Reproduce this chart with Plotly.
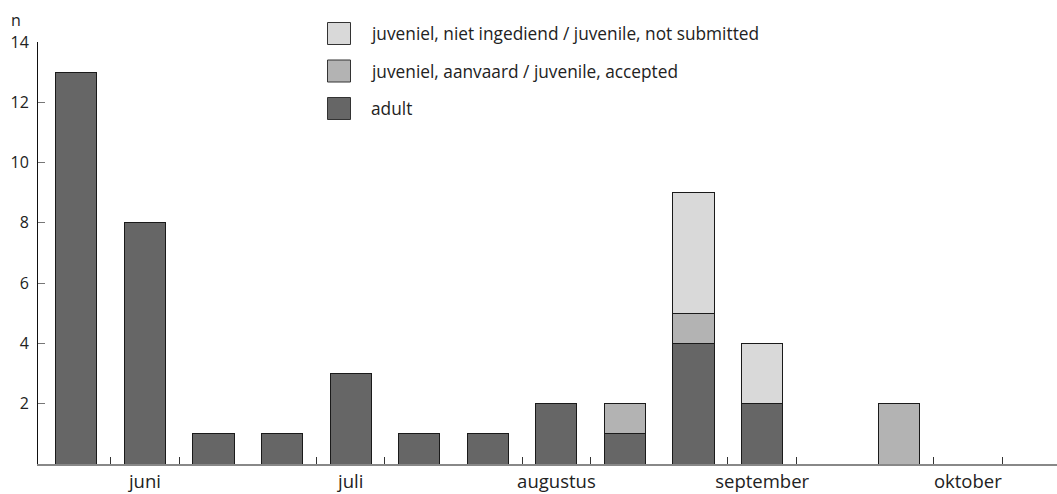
import plotly.graph_objects as go

months = ["juni", "juli", "augustus", "september", "oktober"]
slots = list(range(15))
adult = [13, 8, 1, 1, 3, 1, 1, 2, 1, 4, 2, 0, 0, 0, 0]
accepted = [0, 0, 0, 0, 0, 0, 0, 0, 1, 1, 0, 0, 2, 0, 0]
not_submitted = [0, 0, 0, 0, 0, 0, 0, 0, 0, 4, 2, 0, 0, 0, 0]
y_ticks = [2, 4, 6, 8, 10, 12, 14]

FONT = "Open Sans"
W, H = 1057, 494
ML, MR, MT, MB = 38, 0, 42, 30
line = dict(color="#1a1a1a", width=1)

series = [
    ("adult", adult, "#666666"),
    ("juveniel, aanvaard / juvenile, accepted", accepted, "#b3b3b3"),
    ("juveniel, niet ingediend / juvenile, not submitted", not_submitted, "#d9d9d9"),
]

fig = go.Figure()
for name, vals, col in series:
    fig.add_trace(go.Bar(
        x=slots, y=[v if v else None for v in vals], name=name,
        marker=dict(color=col, line=line), width=0.6, showlegend=False,
    ))

inner = [i + 0.5 for i in range(14) if (i + 1) % 3 != 0]
seps = [i + 0.5 for i in range(14) if (i + 1) % 3 == 0]
centers = [3 * k + 1 for k in range(len(months))]
xr = [-0.56, 14.3]

# custom legend (large square keys), top entry = last series
pw, ph = W - ML - MR, H - MT - MB
def px(x):
    return (x - ML) / pw
def py(y):
    return (H - MB - y) / ph

shapes, annots = [], []
for k, (name, vals, col) in enumerate(reversed(series)):
    cy = 33.5 + 37.5 * k
    shapes.append(dict(type="rect", xref="paper", yref="paper",
                       x0=px(327.5), x1=px(350.5), y0=py(cy + 11), y1=py(cy - 11),
                       fillcolor=col, line=dict(color="#333", width=1)))
    annots.append(dict(text=name, xref="paper", yref="paper", x=px(369), y=py(cy),
                       xanchor="left", yanchor="middle", showarrow=False,
                       font=dict(size=17.3, color="#222")))
annots.append(dict(text="n", xref="paper", yref="paper", x=px(9), y=py(20),
                   yanchor="middle", xanchor="left", showarrow=False,
                   font=dict(size=16, color="#222")))

fig.update_layout(
    barmode="stack",
    width=W, height=H,
    margin=dict(l=ML, r=MR, t=MT, b=MB, autoexpand=False),
    plot_bgcolor="white", paper_bgcolor="white",
    font=dict(family=FONT, color="#222"),
    showlegend=False,
    xaxis=dict(
        range=xr, tickvals=centers, ticktext=months, ticks="", automargin=False,
        showline=True, linecolor="#888", linewidth=2,
        tickfont=dict(size=18.5, color="#222"), showgrid=False, zeroline=False,
        minor=dict(tickvals=inner, ticks="inside", ticklen=7, tickcolor="#333", tickwidth=1, showgrid=False),
    ),
    xaxis2=dict(
        range=xr, overlaying="x", anchor="y", side="bottom", automargin=False,
        tickvals=seps, ticks="outside", ticklen=15, tickcolor="#333", tickwidth=1,
        showticklabels=False, showline=False, showgrid=False, zeroline=False,
    ),
    xaxis3=dict(
        range=xr, overlaying="x", anchor="y", side="bottom", automargin=False,
        tickvals=seps, ticks="inside", ticklen=18, tickcolor="#333", tickwidth=1,
        showticklabels=False, showline=False, showgrid=False, zeroline=False,
    ),
    yaxis=dict(
        range=[0, 14], tickvals=y_ticks, ticks="inside", ticklen=7, tickcolor="#777",
        ticklabelstandoff=5,
        automargin=False,
        showline=True, linecolor="#111", linewidth=1, showgrid=False, zeroline=False,
        tickfont=dict(size=16, color="#222"),
    ),
    shapes=shapes,
    annotations=annots,
)

fig.write_html("out.html", post_script="document.body.style.margin='0';",
               config={"displayModeBar": False})
